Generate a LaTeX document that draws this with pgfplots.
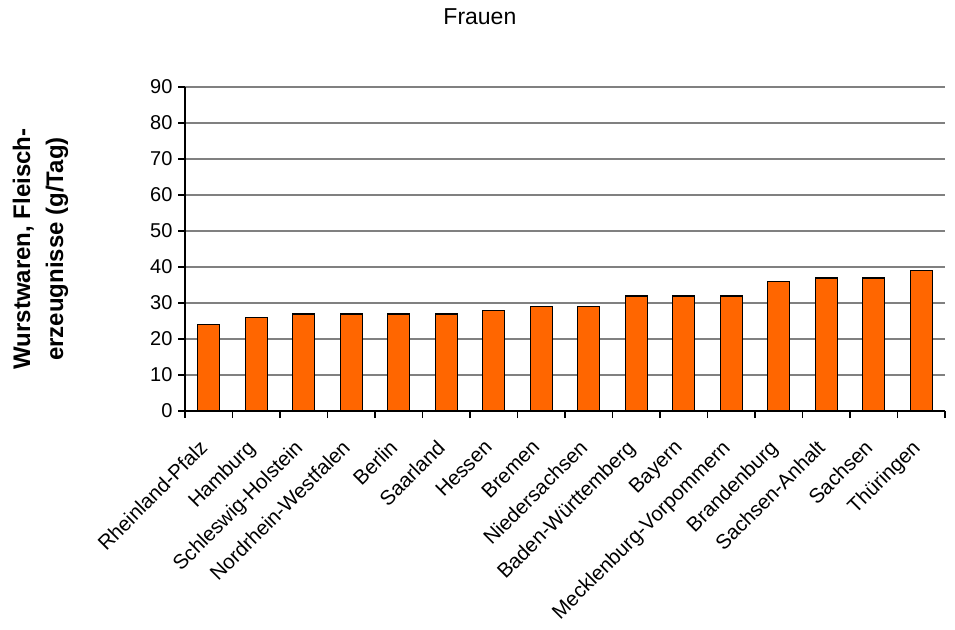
\documentclass[border=0pt]{standalone}
\usepackage{fontspec}
\setmainfont{Liberation Sans}
\usepackage{pgfplots}
\pgfplotsset{compat=1.18}
\definecolor{barorange}{HTML}{FF6600}
\definecolor{gridgrey}{HTML}{808080}
\begin{document}
\begin{tikzpicture}
\useasboundingbox (0pt,0pt) rectangle (955pt,629pt);
\begin{axis}[
  at={(185pt,218pt)}, anchor=south west,
  scale only axis, width=760pt, height=324pt,
  ymin=0, ymax=90, ytick={0,10,...,90},
  xmin=-0.5, xmax=15.5,
  xtick={0,...,15},
  xticklabels={Rheinland-Pfalz,Hamburg,Schleswig-Holstein,Nordrhein-Westfalen,Berlin,Saarland,Hessen,Bremen,Niedersachsen,Baden-Württemberg,Bayern,Mecklenburg-Vorpommern,Brandenburg,Sachsen-Anhalt,Sachsen,Thüringen},
  minor xtick={-0.5,0.5,...,15.5},
  axis lines*=left,
  axis line style={black, line width=1.3pt},
  tick align=outside,
  tick pos=left,
  major tick length=7pt,
  minor tick length=7pt,
  xtick style={draw=none},
  minor x tick style={draw=black, line width=1.3pt},
  ytick style={black, line width=1.3pt},
  ymajorgrids,
  major grid style={gridgrey, line width=1.5pt},
  /pgf/number format/assume math mode=true,
  yticklabel style={font=\fontsize{20}{24}\selectfont, xshift=-2pt},
  x tick label style={font=\fontsize{20.5}{25}\selectfont, rotate=45, anchor=north east, inner sep=0pt, xshift=-22pt, yshift=-7pt},
  ylabel={Wurstwaren, Fleisch-\\erzeugnisse (g/Tag)},
  ylabel style={font=\fontsize{24}{33}\selectfont\bfseries, align=center, at={(axis description cs:-0.19,0.5)}, anchor=center},
  title={Frauen},
  title style={font=\fontsize{23}{27}\selectfont, at={(axis description cs:0.388,1.2)}, anchor=center},
]
\addplot[ybar, bar width=22pt, fill=barorange, draw=black, line width=1.4pt] coordinates {
(0,24) (1,26) (2,27) (3,27) (4,27) (5,27) (6,28) (7,29) (8,29) (9,32) (10,32) (11,32) (12,36) (13,37) (14,37) (15,39)
};
\end{axis}
\end{tikzpicture}
\end{document}
